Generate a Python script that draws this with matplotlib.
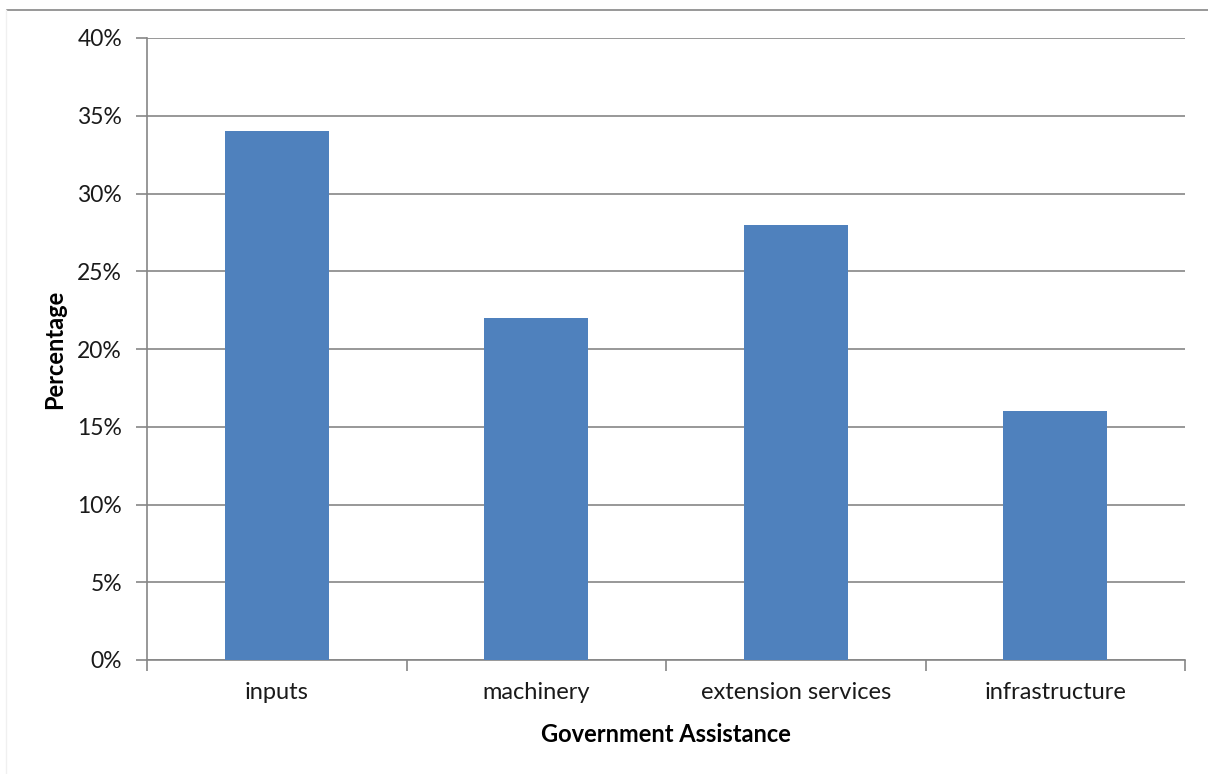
import numpy as np
import matplotlib
matplotlib.use('Agg')
from matplotlib import pyplot as plt
from matplotlib.lines import Line2D
from matplotlib.ticker import PercentFormatter

categories = ['inputs', 'machinery', 'extension services', 'infrastructure']
shares = [34, 22, 28, 16]  # percent of respondents
y_ticks = [0, 5, 10, 15, 20, 25, 30, 35, 40]

plt.rcParams['font.family'] = ['Lato', 'DejaVu Sans']

fig = plt.figure(figsize=(12.08, 7.74), dpi=100)
ax = fig.add_axes([147 / 1208, 114 / 774, 1038 / 1208, 622 / 774])

x = np.arange(len(categories))
ax.bar(x, shares, width=0.4, color='#4F81BD', zorder=3)

ax.set_xlim(-0.5, len(categories) - 0.5)
ax.set_ylim(0, 40)
ax.set_yticks(y_ticks)
ax.yaxis.set_major_formatter(PercentFormatter(decimals=0))
ax.grid(axis='y', color='#868686', linewidth=1.2, zorder=0)

# category labels sit between boundary ticks
ax.set_xticks(np.arange(len(categories) + 1) - 0.5)
ax.set_xticklabels([])
ax.set_xticks(x, minor=True)
ax.set_xticklabels(categories, minor=True, fontsize=17, color='#1a1a1a')
ax.tick_params(axis='x', which='minor', length=0, pad=16)
ax.tick_params(axis='x', which='major', length=8, width=1.2, color='#868686')
ax.tick_params(axis='y', length=8, width=1.2, color='#868686', labelsize=16.5,
               labelcolor='#1a1a1a', pad=10)

for side in ['top', 'right']:
    ax.spines[side].set_visible(False)
for side in ['left', 'bottom']:
    ax.spines[side].set_color('#868686')
    ax.spines[side].set_linewidth(1.2)

ax.set_xlabel('Government Assistance', fontsize=17, fontweight='bold')
ax.set_ylabel('Percentage', fontsize=17, fontweight='bold')
ax.xaxis.set_label_coords(0.5, -0.102)
ax.yaxis.set_label_coords(-0.078, 0.5)

# frame edges of the chart area
fig.add_artist(Line2D([7 / 1208, 1], [1 - 10 / 774, 1 - 10 / 774],
                      color='#868686', linewidth=1.2))
fig.add_artist(Line2D([6 / 1208, 6 / 1208], [0, 1 - 10 / 774],
                      color='#f0f0f0', linewidth=1))

fig.savefig('out.png', dpi=100)
